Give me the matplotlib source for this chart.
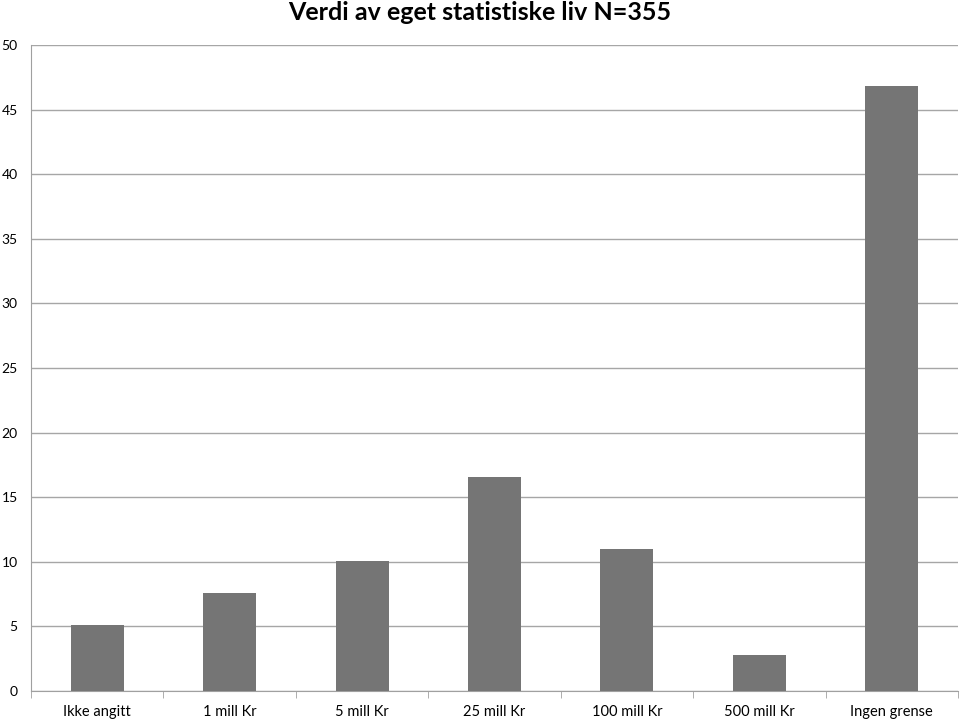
import matplotlib.pyplot as plt
import numpy as np

categories = ["Ikke angitt", "1 mill Kr", "5 mill Kr", "25 mill Kr",
              "100 mill Kr", "500 mill Kr", "Ingen grense"]
percent = [5.1, 7.6, 10.1, 16.6, 11.0, 2.8, 46.8]
y_ticks = [0, 5, 10, 15, 20, 25, 30, 35, 40, 45, 50]

plt.rcParams['font.family'] = ['Lato', 'DejaVu Sans']

fig = plt.figure(figsize=(9.6, 7.19), dpi=100)
ax = fig.add_axes([31 / 960, 28 / 719, 927 / 960, 646 / 719])

x = np.arange(len(categories))
ax.bar(x, percent, width=0.4, color='#757575', zorder=3)

ax.set_xlim(-0.5, len(categories) - 0.5)
ax.set_ylim(0, 50)
ax.set_yticks(y_ticks)
ax.set_yticklabels([str(v) for v in y_ticks], fontsize=10)
ax.set_xticks(x)
ax.set_xticklabels(categories, fontsize=10.5)
ax.set_xticks(np.arange(len(categories) + 1) - 0.5, minor=True)
ax.tick_params(axis='x', which='major', length=0, pad=10)
ax.tick_params(axis='x', which='minor', length=5, color='#a0a0a0')
ax.tick_params(axis='y', length=0, pad=9.5)

ax.grid(axis='y', color='#a6a6a6', linewidth=1, zorder=0)
for side in ['top', 'right']:
    ax.spines[side].set_visible(False)
ax.spines['left'].set_color('#a0a0a0')
ax.spines['bottom'].set_color('#a0a0a0')

fig.text(0.5, 1 - 12 / 719, "Verdi av eget statistiske liv N=355",
         ha='center', va='center', fontsize=18, fontweight='bold')

fig.savefig('out.png', dpi=100)
